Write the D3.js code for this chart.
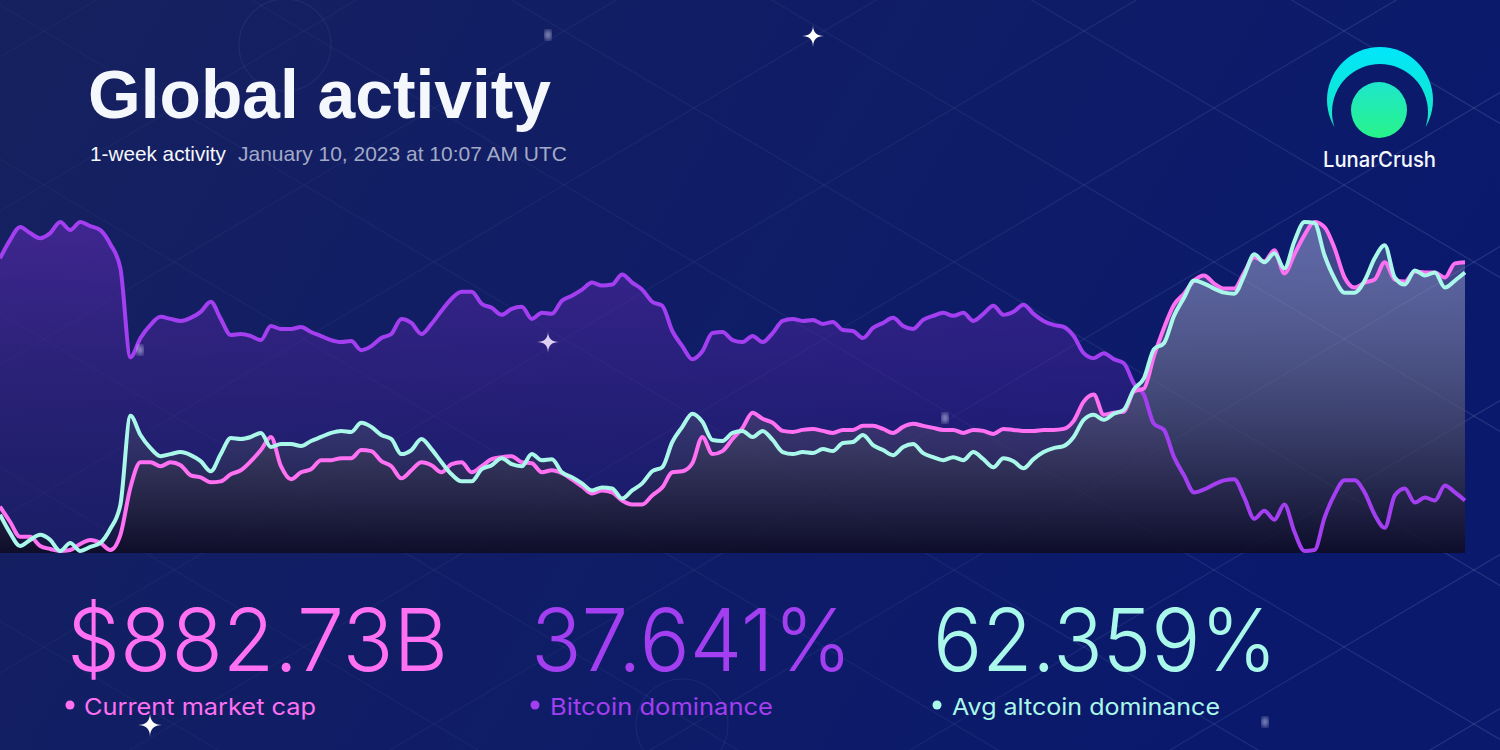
<!DOCTYPE html>
<html lang="en">
<head>
<meta charset="utf-8">
<title>Global activity</title>
<script src="https://cdn.jsdelivr.net/npm/d3@7"></script>
<style>
    body{
        margin:0;
        background:#101c62;
        overflow:hidden;
    }
    svg{display:block}
</style>
</head>
<body>
<div id="chart"></div>
<script>
// hourly samples over one week
var marketCap = [
    810.13, 805.63, 801.13, 801.13, 798.43, 797.53, 796.93, 797.23, 799.03, 800.23,
    799.33, 797.23, 801.73, 815.83, 823.33, 823.33, 822.13, 823.33, 822.43, 819.43,
    818.83, 817.33, 817.63, 819.73, 820.93, 823.63, 826.93, 830.83, 822.13, 818.23,
    820.33, 821.23, 823.93, 823.93, 824.53, 824.53, 826.93, 826.63, 823.63, 822.13,
    818.53, 820.93, 823.33, 822.43, 820.33, 822.73, 823.33, 820.33, 822.13, 824.23,
    824.83, 825.13, 823.33, 823.03, 820.33, 820.93, 820.03, 818.23, 816.13, 814.03,
    814.93, 814.33, 811.93, 810.73, 810.73, 813.43, 815.83, 820.33, 820.63, 823.03,
    830.83, 825.73, 826.63, 830.23, 833.53, 838.03, 836.23, 835.03, 832.63, 832.33,
    832.93, 833.23, 832.63, 832.03, 832.93, 832.93, 834.13, 834.13, 833.23, 832.03,
    833.83, 834.73, 834.13, 833.53, 832.93, 832.93, 832.03, 832.93, 832.63, 831.73,
    833.23, 832.93, 832.63, 832.63, 832.93, 832.93, 833.23, 835.63, 841.33, 843.43,
    837.43, 838.03, 838.33, 844.33, 845.23, 854.83, 863.23, 870.13, 873.43, 877.33,
    878.83, 876.43, 874.93, 874.93, 879.73, 884.23, 883.03, 886.33, 879.43, 885.13,
    890.83, 894.73, 893.23, 886.93, 878.23, 875.23, 876.73, 877.63, 882.73, 877.63,
    877.03, 880.03, 879.73, 879.73, 878.23, 882.43, 882.73
]
var btcDominance = [
    38.121, 38.157, 38.183, 38.171, 38.161, 38.171, 38.193, 38.177, 38.193, 38.185,
    38.177, 38.149, 38.101, 37.925, 37.963, 37.989, 38.005, 38.001, 37.997, 38.003,
    38.015, 38.035, 38.001, 37.969, 37.971, 37.967, 37.959, 37.987, 37.981, 37.981,
    37.985, 37.975, 37.967, 37.959, 37.955, 37.957, 37.939, 37.947, 37.963, 37.971,
    38.001, 37.993, 37.971, 37.991, 38.017, 38.041, 38.055, 38.055, 38.031, 38.023,
    38.009, 38.021, 38.025, 38.001, 38.013, 38.011, 38.037, 38.047, 38.059, 38.073,
    38.067, 38.069, 38.089, 38.073, 38.059, 38.035, 38.027, 37.977, 37.947, 37.921,
    37.937, 37.973, 37.975, 37.959, 37.955, 37.967, 37.955, 37.973, 37.997, 38.001,
    37.997, 37.999, 37.991, 37.995, 37.979, 37.977, 37.963, 37.983, 37.993, 38.003,
    37.987, 37.981, 37.999, 38.007, 38.013, 38.007, 38.013, 37.997, 38.011, 38.027,
    38.009, 38.015, 38.029, 38.011, 37.997, 37.989, 37.985, 37.967, 37.933, 37.923,
    37.933, 37.921, 37.913, 37.873, 37.851, 37.793, 37.781, 37.727, 37.691, 37.657,
    37.663, 37.673, 37.681, 37.683, 37.647, 37.605, 37.621, 37.603, 37.633, 37.579,
    37.541, 37.543, 37.607, 37.653, 37.681, 37.681, 37.657, 37.613, 37.587, 37.651,
    37.665, 37.637, 37.647, 37.641, 37.671, 37.657, 37.641
]
var altDominance = [
    61.879, 61.843, 61.817, 61.829, 61.839, 61.829, 61.807, 61.823, 61.807, 61.815,
    61.823, 61.851, 61.899, 62.075, 62.037, 62.011, 61.995, 61.999, 62.003, 61.997,
    61.985, 61.965, 61.999, 62.031, 62.029, 62.033, 62.041, 62.013, 62.019, 62.019,
    62.015, 62.025, 62.033, 62.041, 62.045, 62.043, 62.061, 62.053, 62.037, 62.029,
    61.999, 62.007, 62.029, 62.009, 61.983, 61.959, 61.945, 61.945, 61.969, 61.977,
    61.991, 61.979, 61.975, 61.999, 61.987, 61.989, 61.963, 61.953, 61.941, 61.927,
    61.933, 61.931, 61.911, 61.927, 61.941, 61.965, 61.973, 62.023, 62.053, 62.079,
    62.063, 62.027, 62.025, 62.041, 62.045, 62.033, 62.045, 62.027, 62.003, 61.999,
    62.003, 62.001, 62.009, 62.005, 62.021, 62.023, 62.037, 62.017, 62.007, 61.997,
    62.013, 62.019, 62.001, 61.993, 61.987, 61.993, 61.987, 62.003, 61.989, 61.973,
    61.991, 61.985, 61.971, 61.989, 62.003, 62.011, 62.015, 62.033, 62.067, 62.077,
    62.067, 62.079, 62.087, 62.127, 62.149, 62.207, 62.219, 62.273, 62.309, 62.343,
    62.337, 62.327, 62.319, 62.317, 62.353, 62.395, 62.379, 62.397, 62.367, 62.421,
    62.459, 62.457, 62.393, 62.347, 62.319, 62.319, 62.343, 62.387, 62.413, 62.349,
    62.335, 62.363, 62.353, 62.359, 62.329, 62.343, 62.359
]
var statValues = ["$882.73B", "37.641%", "62.359%"]
var statLabels = ["Current market cap", "Bitcoin dominance", "Avg altcoin dominance"]

var W = 1500, H = 750
var chartRight = 1465, chartTop = 222, chartBottom = 551, baseY = 553

var svg = d3.select("#chart").append("svg")
    .attr("width", W).attr("height", H)
var defs = svg.append("defs")

// background
var bg = defs.append("linearGradient").attr("id", "bg")
    .attr("x1", 0).attr("y1", 0).attr("x2", 1).attr("y2", 0.3)
bg.append("stop").attr("offset", 0).attr("stop-color", "#16215f")
bg.append("stop").attr("offset", 1).attr("stop-color", "#0a196c")
svg.append("rect").attr("width", W).attr("height", H).attr("fill", "url(#bg)")

var lineGrad = defs.append("linearGradient").attr("id", "latticeGrad")
    .attr("gradientUnits", "userSpaceOnUse")
    .attr("x1", 0).attr("y1", 0).attr("x2", W).attr("y2", 0)
lineGrad.append("stop").attr("offset", 0).attr("stop-color", "#9fc0e8").attr("stop-opacity", 0.035)
lineGrad.append("stop").attr("offset", 0.6).attr("stop-color", "#9fc0e8").attr("stop-opacity", 0.065)
lineGrad.append("stop").attr("offset", 1).attr("stop-color", "#9fc0e8").attr("stop-opacity", 0.16)

// diamond lattice in the background
var slope = 77 / 130
var lattice = svg.append("g").attr("stroke", "url(#latticeGrad)").attr("stroke-width", 1.2)
d3.range(-12, 12).forEach(function(k){
    lattice.append("line")
        .attr("x1", 0).attr("y1", 570 + slope * (0 - 1474) + 154 * k)
        .attr("x2", W).attr("y2", 570 + slope * (W - 1474) + 154 * k)
    lattice.append("line")
        .attr("x1", 0).attr("y1", 570 - slope * (0 - 1474) + 154 * k)
        .attr("x2", W).attr("y2", 570 - slope * (W - 1474) + 154 * k)
})

// faint rings
svg.append("circle").attr("cx", 285).attr("cy", 45).attr("r", 46)
    .attr("fill", "none").attr("stroke", "rgba(160,180,255,0.08)").attr("stroke-width", 1.2)
svg.append("circle").attr("cx", 682).attr("cy", 725).attr("r", 46)
    .attr("fill", "none").attr("stroke", "rgba(160,180,255,0.08)").attr("stroke-width", 1.2)

// series gradients
function areaGradient(id, topColor, topOp, botColor, botOp){
    var g = defs.append("linearGradient").attr("id", id)
        .attr("gradientUnits", "userSpaceOnUse")
        .attr("x1", 0).attr("y1", chartTop).attr("x2", 0).attr("y2", baseY)
    g.append("stop").attr("offset", 0).attr("stop-color", topColor).attr("stop-opacity", topOp)
    g.append("stop").attr("offset", 1).attr("stop-color", botColor).attr("stop-opacity", botOp)
}
areaGradient("fillBtc", "#6a2dc0", 0.5, "#2d1a70", 0.25)
areaGradient("fillCap", "#c0b0e6", 0.3, "#0c0a1c", 0.6)
areaGradient("fillAlt", "#aabee6", 0.28, "#0c0a1c", 0.55)

var series = [
    {name: "btc", values: btcDominance, color: "#a33ff0", fill: "url(#fillBtc)"},
    {name: "cap", values: marketCap, color: "#ff70f2", fill: "url(#fillCap)"},
    {name: "alt", values: altDominance, color: "#aaf8ea", fill: "url(#fillAlt)"}
]

var x = d3.scaleLinear().domain([0, marketCap.length - 1]).range([0, chartRight])

series.forEach(function(s){
    s.y = d3.scaleLinear().domain(d3.extent(s.values)).range([chartBottom, chartTop])
})

series.forEach(function(s){
    var area = d3.area()
        .x(function(d, i){ return x(i) })
        .y0(baseY)
        .y1(function(d){ return s.y(d) })
        .curve(d3.curveMonotoneX)
    svg.append("path").datum(s.values)
        .attr("d", area)
        .attr("fill", s.fill)
})
series.forEach(function(s){
    var line = d3.line()
        .x(function(d, i){ return x(i) })
        .y(function(d){ return s.y(d) })
        .curve(d3.curveMonotoneX)
    svg.append("path").datum(s.values)
        .attr("d", line)
        .attr("fill", "none")
        .attr("stroke", s.color)
        .attr("stroke-width", 4)
        .attr("stroke-linejoin", "round")
})

// sparkles and glows
var blur = defs.append("filter").attr("id", "blur")
blur.append("feGaussianBlur").attr("stdDeviation", 2.5)
function sparkle(cx, cy, s, color){
    svg.append("path")
        .attr("transform", "translate(" + cx + "," + cy + ")")
        .attr("d", "M0," + (-s) + " Q0,0 " + s + ",0 Q0,0 0," + s + " Q0,0 " + (-s) + ",0 Q0,0 0," + (-s) + "Z")
        .attr("fill", color)
}
sparkle(813, 36, 11, "#ffffff")
sparkle(548, 342, 11, "#e0d0f0")
sparkle(150, 725, 12, "#ffffff")
;[[548, 35], [140, 350], [945, 418], [1265, 722]].forEach(function(p){
    svg.append("ellipse").attr("cx", p[0]).attr("cy", p[1]).attr("rx", 3).attr("ry", 5)
        .attr("fill", "rgba(230,230,255,0.7)").attr("filter", "url(#blur)")
})

// header
svg.append("text").attr("x", 88).attr("y", 118)
    .text("Global activity")
    .attr("font-family", "Liberation Sans, Arial, sans-serif")
    .attr("font-weight", "bold").attr("font-size", 68)
    .attr("fill", "#f4f7fb")
    .attr("textLength", 463).attr("lengthAdjust", "spacingAndGlyphs")
svg.append("text").attr("x", 90).attr("y", 161)
    .text("1-week activity")
    .attr("font-family", "Liberation Sans, Arial, sans-serif")
    .attr("font-size", 21).attr("fill", "#f4f7fb")
    .attr("textLength", 136).attr("lengthAdjust", "spacingAndGlyphs")
svg.append("text").attr("x", 238).attr("y", 161)
    .text("January 10, 2023 at 10:07 AM UTC")
    .attr("font-family", "Liberation Sans, Arial, sans-serif")
    .attr("font-size", 21).attr("fill", "#a3aac8")
    .attr("textLength", 329).attr("lengthAdjust", "spacingAndGlyphs")

// logo
var crescentGrad = defs.append("linearGradient").attr("id", "crescent")
    .attr("x1", 0).attr("y1", 0).attr("x2", 0).attr("y2", 1)
crescentGrad.append("stop").attr("offset", 0).attr("stop-color", "#00e6fb")
crescentGrad.append("stop").attr("offset", 1).attr("stop-color", "#1ee8b2")
var ballGrad = defs.append("linearGradient").attr("id", "ball")
    .attr("x1", 0).attr("y1", 0).attr("x2", 0).attr("y2", 1)
ballGrad.append("stop").attr("offset", 0).attr("stop-color", "#1ee6cc")
ballGrad.append("stop").attr("offset", 1).attr("stop-color", "#28f489")
var mask = defs.append("mask").attr("id", "crescentMask")
mask.append("rect").attr("width", W).attr("height", H).attr("fill", "#fff")
mask.append("circle").attr("cx", 1380).attr("cy", 112).attr("r", 48).attr("fill", "#000")
mask.append("rect").attr("x", 1300).attr("y", 127).attr("width", 160).attr("height", 40).attr("fill", "#000")
svg.append("circle").attr("cx", 1380).attr("cy", 100).attr("r", 53)
    .attr("fill", "url(#crescent)").attr("mask", "url(#crescentMask)")
svg.append("circle").attr("cx", 1379).attr("cy", 110).attr("r", 28)
    .attr("fill", "url(#ball)")
svg.append("text").attr("x", 1323).attr("y", 167)
    .text("LunarCrush")
    .attr("font-family", "Inter, Liberation Sans, sans-serif")
    .attr("font-weight", 500)
    .attr("font-size", 21).attr("fill", "#f4f7fb")
    .attr("textLength", 113).attr("lengthAdjust", "spacingAndGlyphs")

// stats
var statLayout = [
    {x: 67, w: 381, lx: 84, lw: 232, dot: 70},
    {x: 531, w: 321, lx: 550, lw: 223, dot: 535},
    {x: 933, w: 344, lx: 952, lw: 268, dot: 937}
]
var statColors = ["#ff70f2", "#a33ff0", "#aaf8ea"]
statValues.forEach(function(v, i){
    var L = statLayout[i]
    svg.append("text").attr("x", L.x).attr("y", 671)
        .text(v)
        .attr("font-family", "Inter, Liberation Sans, sans-serif")
        .attr("font-weight", 300).attr("font-size", 87)
        .attr("fill", statColors[i])
        .attr("textLength", L.w).attr("lengthAdjust", "spacingAndGlyphs")
    svg.append("circle").attr("cx", L.dot).attr("cy", 705).attr("r", 4.5)
        .attr("fill", statColors[i])
    svg.append("text").attr("x", L.lx).attr("y", 715)
        .text(statLabels[i])
        .attr("font-family", "Inter, Liberation Sans, sans-serif")
        .attr("font-weight", 400).attr("font-size", 23)
        .attr("fill", statColors[i])
        .attr("textLength", L.lw).attr("lengthAdjust", "spacingAndGlyphs")
})
</script>
</body>
</html>
